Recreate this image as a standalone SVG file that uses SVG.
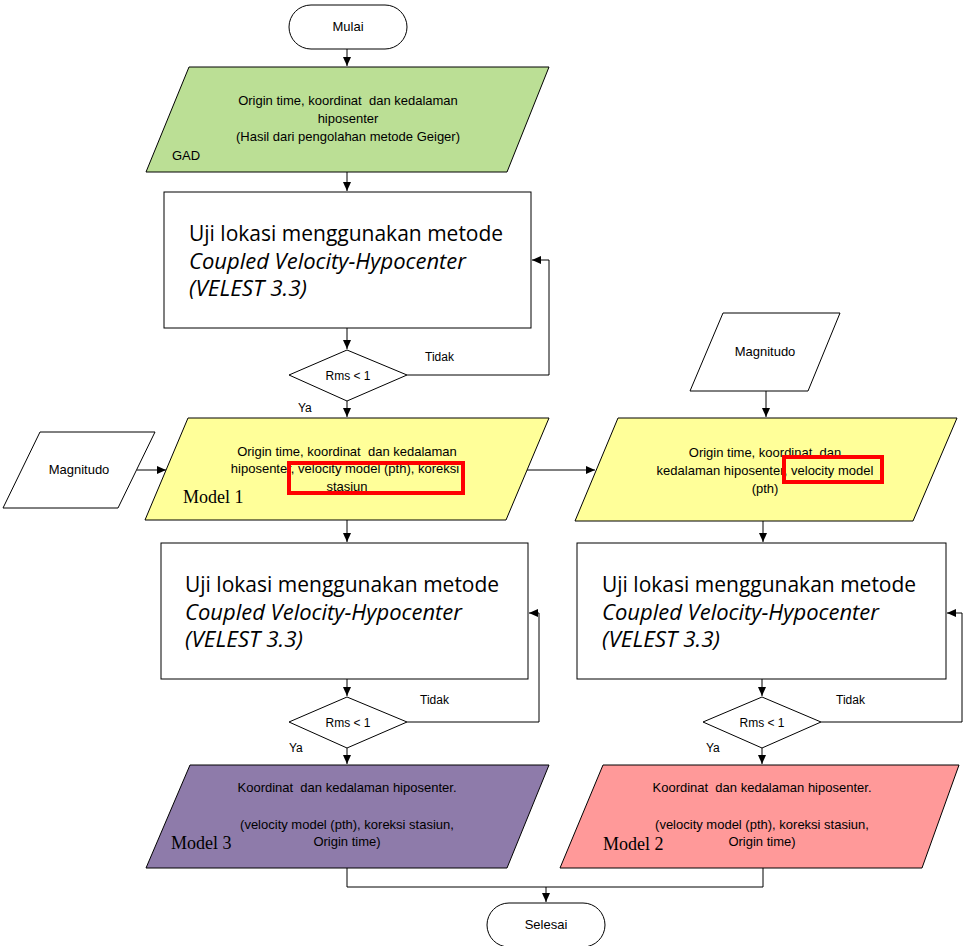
<svg xmlns="http://www.w3.org/2000/svg" width="966" height="946" viewBox="0 0 966 946">
<style>
.s{stroke:#000;stroke-width:1;}
.t{font-family:"Liberation Sans",Arial,sans-serif;font-size:13px;fill:#000;text-anchor:middle;white-space:pre;}
.tl{font-family:"Liberation Sans",Arial,sans-serif;font-size:12px;fill:#000;}
.big{font-family:"Open Sans","Noto Sans",sans-serif;font-size:21px;fill:#000;}
.it{font-style:italic;}
.m{font-family:"Liberation Serif","Times New Roman",serif;font-size:18px;fill:#000;}
.c{fill:none;stroke:#000;stroke-width:1;}
.hl{fill:none;stroke:#FF0000;stroke-width:4;}
</style>
<defs>
<marker id="ah" markerWidth="10" markerHeight="10" refX="9" refY="4" orient="auto" markerUnits="userSpaceOnUse">
<path d="M0,0 L9,4 L0,8 z" fill="#000"/>
</marker>
</defs>
<rect width="966" height="946" fill="#fff"/>

<g id="connectors">
<path class="c" d="M347,49 V66" marker-end="url(#ah)"/>
<path class="c" d="M347,172 V191" marker-end="url(#ah)"/>
<path class="c" d="M347,328 V349" marker-end="url(#ah)"/>
<path class="c" d="M407,375 H549 V260 H532" marker-end="url(#ah)"/>
<path class="c" d="M347,401 V417" marker-end="url(#ah)"/>
<path class="c" d="M137,470 H166" marker-end="url(#ah)"/>
<path class="c" d="M766,391 V417" marker-end="url(#ah)"/>
<path class="c" d="M527,470 H595" marker-end="url(#ah)"/>
<path class="c" d="M347,520 V542" marker-end="url(#ah)"/>
<path class="c" d="M763,521 V542" marker-end="url(#ah)"/>
<path class="c" d="M347,679 V696" marker-end="url(#ah)"/>
<path class="c" d="M407,722 H539 V613 H529" marker-end="url(#ah)"/>
<path class="c" d="M347,748 V764" marker-end="url(#ah)"/>
<path class="c" d="M762,679 V696" marker-end="url(#ah)"/>
<path class="c" d="M821,722 H962 V613 H947" marker-end="url(#ah)"/>
<path class="c" d="M762,748 V764" marker-end="url(#ah)"/>
<path class="c" d="M347,868 V887 H763 V868"/>
<path class="c" d="M546,887 V902" marker-end="url(#ah)"/>
<text class="tl" x="425" y="361">Tidak</text>
<text class="tl" x="298" y="412">Ya</text>
<text class="tl" x="420" y="704">Tidak</text>
<text class="tl" x="289" y="752">Ya</text>
<text class="tl" x="836" y="704">Tidak</text>
<text class="tl" x="706" y="752">Ya</text>
</g>

<g id="mulai">
<rect class="s" x="289" y="5" width="118" height="44" rx="22" ry="22" fill="#fff"/>
<text class="t" x="348" y="31">Mulai</text>
</g>

<g id="input-gad">
<polygon class="s" points="189,67 549,67 507,172 146,172" fill="#BBDF95"/>
<text class="t" x="348" y="105">Origin time, koordinat  dan kedalaman</text>
<text class="t" x="348" y="123">hiposenter</text>
<text class="t" x="348" y="141">(Hasil dari pengolahan metode Geiger)</text>
<text class="tl" x="172" y="160" style="font-size:13px">GAD</text>
</g>

<g id="uji1">
<rect class="s" x="164" y="192" width="367" height="136" fill="#fff"/>
<text class="big" x="189" y="241">Uji lokasi menggunakan metode</text>
<text class="big it" x="189" y="269" textLength="277" lengthAdjust="spacingAndGlyphs">Coupled Velocity-Hypocenter</text>
<text class="big it" x="189" y="296" textLength="118" lengthAdjust="spacingAndGlyphs">(VELEST 3.3)</text>
</g>

<g id="rms1">
<polygon class="s" points="347,350 407,375 347,401 289,375" fill="#fff"/>
<text class="t" x="348" y="380" style="font-size:12px">Rms &lt; 1</text>
</g>

<g id="magnitudo1">
<polygon class="s" points="40,432 155,432 118,508 3,508" fill="#fff"/>
<text class="t" x="79" y="474">Magnitudo</text>
</g>

<g id="model1">
<polygon class="s" points="188,418 549,418 506,520 145,520" fill="#FFFF99"/>
<text class="t" x="347" y="456">Origin time, koordinat  dan kedalaman</text>
<text class="t" x="345" y="473">hiposenter, velocity model (pth), koreksi</text>
<text class="t" x="347" y="491">stasiun</text>
<text class="m" x="183" y="503">Model 1</text>
<rect class="hl" x="289" y="463" width="174" height="30"/>
</g>

<g id="magnitudo2">
<polygon class="s" points="723,313 840,313 808,391 690,391" fill="#fff"/>
<text class="t" x="765" y="356">Magnitudo</text>
</g>

<g id="model2-input">
<polygon class="s" points="618,418 957,418 913,521 575,521" fill="#FFFF99"/>
<text class="t" x="765" y="457">Origin time, koordinat  dan</text>
<text class="t" x="765" y="475">kedalaman hiposenter, velocity model</text>
<text class="t" x="765" y="493">(pth)</text>
<rect class="hl" x="784" y="457" width="98" height="25"/>
</g>

<g id="uji2">
<rect class="s" x="161" y="543" width="367" height="136" fill="#fff"/>
<text class="big" x="185" y="592">Uji lokasi menggunakan metode</text>
<text class="big it" x="185" y="620" textLength="277" lengthAdjust="spacingAndGlyphs">Coupled Velocity-Hypocenter</text>
<text class="big it" x="185" y="647" textLength="118" lengthAdjust="spacingAndGlyphs">(VELEST 3.3)</text>
</g>

<g id="uji3">
<rect class="s" x="577" y="543" width="369" height="136" fill="#fff"/>
<text class="big" x="602" y="592">Uji lokasi menggunakan metode</text>
<text class="big it" x="602" y="620" textLength="277" lengthAdjust="spacingAndGlyphs">Coupled Velocity-Hypocenter</text>
<text class="big it" x="602" y="647" textLength="118" lengthAdjust="spacingAndGlyphs">(VELEST 3.3)</text>
</g>

<g id="rms2">
<polygon class="s" points="347,697 407,722 347,748 289,722" fill="#fff"/>
<text class="t" x="348" y="727" style="font-size:12px">Rms &lt; 1</text>
</g>

<g id="rms3">
<polygon class="s" points="762,697 821,722 762,748 703,722" fill="#fff"/>
<text class="t" x="762" y="727" style="font-size:12px">Rms &lt; 1</text>
</g>

<g id="model3">
<polygon class="s" points="190,765 549,765 507,868 146,868" fill="#8E7BAA"/>
<text class="t" x="347" y="792">Koordinat  dan kedalaman hiposenter.</text>
<text class="t" x="347" y="829">(velocity model (pth), koreksi stasiun,</text>
<text class="t" x="347" y="846">Origin time)</text>
<text class="m" x="171" y="849">Model 3</text>
</g>

<g id="model2">
<polygon class="s" points="603,765 959,765 922,868 560,868" fill="#FF9999"/>
<text class="t" x="762" y="792">Koordinat  dan kedalaman hiposenter.</text>
<text class="t" x="762" y="829">(velocity model (pth), koreksi stasiun,</text>
<text class="t" x="762" y="846">Origin time)</text>
<text class="m" x="603" y="850">Model 2</text>
</g>

<g id="selesai">
<rect class="s" x="487" y="903" width="118" height="44" rx="22" ry="22" fill="#fff"/>
<text class="t" x="546" y="929">Selesai</text>
</g>
</svg>
